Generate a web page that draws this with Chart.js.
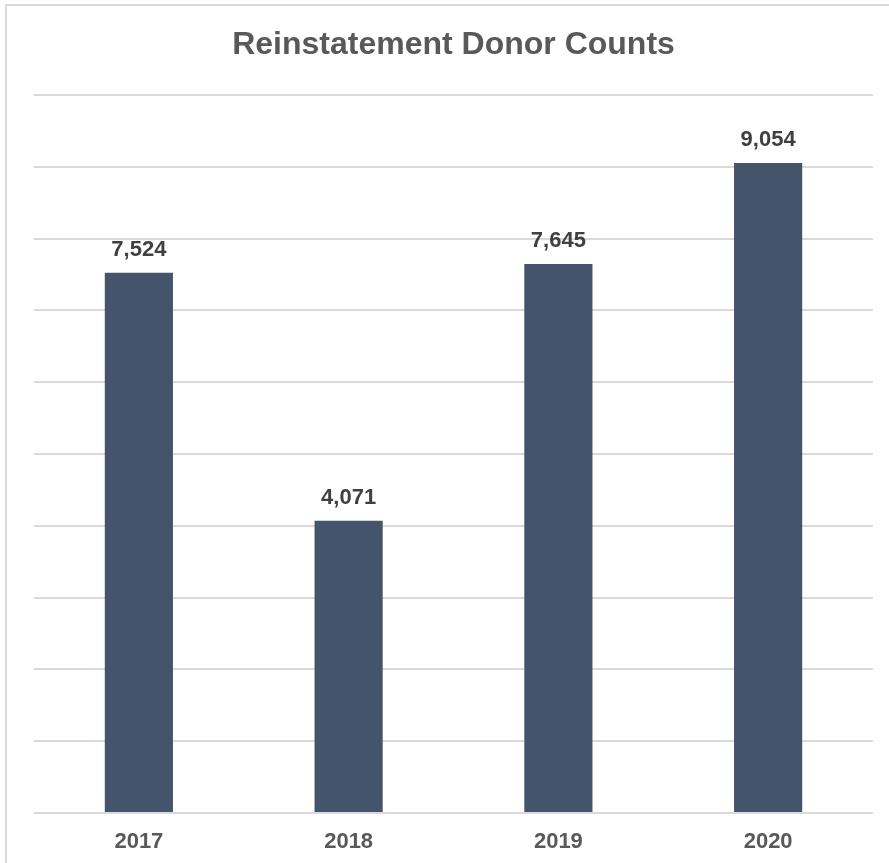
<!DOCTYPE html>
<html>
<head>
<meta charset="utf-8">
<script src="https://cdn.jsdelivr.net/npm/chart.js@4.4.1/dist/chart.umd.min.js"></script>
<style>
  html, body { margin: 0; padding: 0; background: #fff; overflow: hidden; }
  #frame { position: absolute; left: 5px; top: 4px; width: 900px; height: 900px; border: 2px solid #d9d9d9; }
  #wrap { position: absolute; left: 0; top: 0; width: 889px; height: 863px; }
</style>
</head>
<body>
<div id="frame"></div>
<div id="wrap"><canvas id="barChart"></canvas></div>
<script>
// chart data
var years = ['2017', '2018', '2019', '2020'];
var donorCounts = [7524, 4071, 7645, 9054];
var chartTitle = 'Reinstatement Donor Counts';

// draws the value above each bar
var valueLabels = {
    id: 'valueLabels',
    afterDatasetsDraw: function (chart) {
        var ctx = chart.ctx;
        var meta = chart.getDatasetMeta(0);
        ctx.save();
        ctx.font = 'bold 22px "Liberation Sans", Arial, sans-serif';
        ctx.fillStyle = '#404040';
        ctx.textAlign = 'center';
        ctx.textBaseline = 'alphabetic';
        meta.data.forEach(function (bar, i) {
            ctx.fillText(donorCounts[i].toLocaleString('en-US'), bar.x, bar.y - 17);
        });
        ctx.restore();
    }
};

var ctxBar = document.getElementById('barChart').getContext('2d');
var barChart = new Chart(ctxBar, {
    type: 'bar',
    data: {
        labels: years,
        datasets: [{
            data: donorCounts,
            backgroundColor: '#44546A',
            barPercentage: 0.65,
            categoryPercentage: 0.5
        }]
    },
    options: {
        responsive: true,
        maintainAspectRatio: false,
        animation: false,
        layout: { padding: { left: 34, right: 16, top: 5, bottom: 0 } },
        plugins: {
            legend: { display: false },
            tooltip: { enabled: false },
            title: {
                display: true,
                text: chartTitle,
                color: '#595959',
                font: { family: '"Liberation Sans", Arial, sans-serif', size: 32, weight: 'bold' },
                padding: { top: 21, bottom: 30.6 }
            }
        },
        scales: {
            y: {
                min: 0,
                max: 10000,
                ticks: { stepSize: 1000, display: false },
                border: { display: false },
                grid: { color: '#d9d9d9', lineWidth: 2, drawTicks: false }
            },
            x: {
                grid: { display: false },
                border: { display: false },
                afterFit: function (scale) { scale.height = 50; },
                ticks: {
                    color: '#595959',
                    padding: 10,
                    font: { family: '"Liberation Sans", Arial, sans-serif', size: 22, weight: 'bold', lineHeight: 1 }
                }
            }
        }
    },
    plugins: [valueLabels]
});
</script>
</body>
</html>
